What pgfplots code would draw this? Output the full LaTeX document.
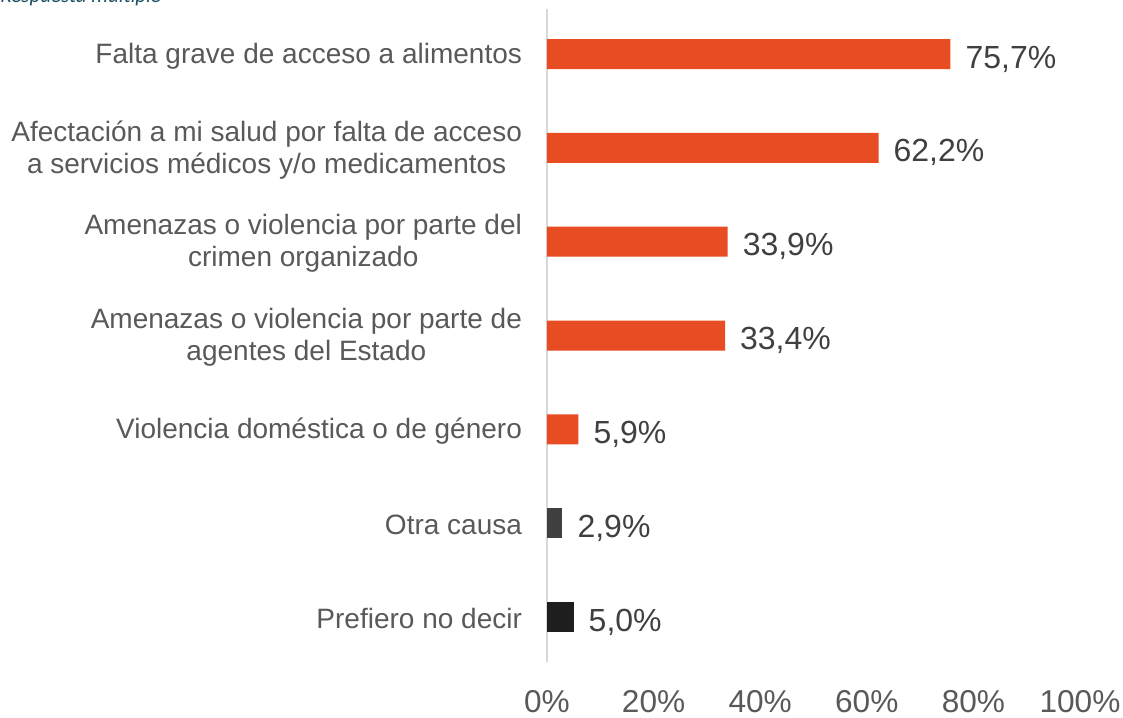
\documentclass[border=0pt]{standalone}
\usepackage{pgfplots}
\pgfplotsset{compat=1.18}
\usepackage{fontspec}
\setmainfont{Liberation Sans}
\newfontfamily\calibri{Carlito}
\definecolor{barorange}{HTML}{E84C22}
\definecolor{bargray}{HTML}{404040}
\definecolor{barblack}{HTML}{1E1E1E}
\definecolor{labgray}{HTML}{595959}
\definecolor{valgray}{HTML}{404040}
\definecolor{titleteal}{HTML}{1B4F63}
\begin{document}
\begin{tikzpicture}
\useasboundingbox (-273.5pt,-27.5pt) rectangle (288pt,331pt);
\node[anchor=base west, inner sep=0pt, font=\calibri\itshape\fontsize{10.5}{12}\selectfont, text=titleteal] at (-273.5pt,329.5pt) {Respuesta múltiple};
\begin{axis}[
  at={(0pt,0pt)}, anchor=south west,
  scale only axis,
  width=266.5pt, height=326.5pt,
  xbar, bar width=15pt, bar shift=0pt,
  xmin=0, xmax=100,
  ymin=-0.48, ymax=6.48,
  y dir=reverse,
  xtick={0,20,40,60,80,100},
  xticklabels={0\%,20\%,40\%,60\%,80\%,100\%},
  ytick={0,1,2,3,4,5,6},
  yticklabels={
    Falta grave de acceso a alimentos,
    Afectación a mi salud por falta de acceso\\a servicios médicos y/o medicamentos,
    Amenazas o violencia por parte del\\crimen organizado,
    Amenazas o violencia por parte de\\agentes del Estado,
    Violencia doméstica o de género,
    Otra causa,
    Prefiero no decir},
  yticklabel style={align=center, font=\fontsize{14}{16}\selectfont, text=labgray, xshift=-9pt, yshift=-1pt},
  xticklabel style={font=\fontsize{15.8}{18}\selectfont, text=labgray, yshift=-10.5pt},
  major tick length=0pt,
  axis x line*=bottom, axis y line*=left,
  x axis line style={draw=none},
  y axis line style={draw=gray!30, line width=1pt, -},
  nodes near coords={\pgfmathprintnumber[fixed,fixed zerofill,precision=1,use comma,assume math mode=true]{\pgfplotspointmeta}\%},
  every node near coord/.append style={anchor=west, xshift=4pt, yshift=-2.5pt, font=\fontsize{16}{18}\selectfont, text=valgray},
  clip=false,
]
\addplot[fill=barorange, draw=none] coordinates {(75.7,0) (62.2,1) (33.9,2) (33.4,3) (5.9,4)};
\addplot[fill=bargray, draw=none] coordinates {(2.9,5)};
\addplot[fill=barblack, draw=none] coordinates {(5.0,6)};
\end{axis}
\end{tikzpicture}
\end{document}
